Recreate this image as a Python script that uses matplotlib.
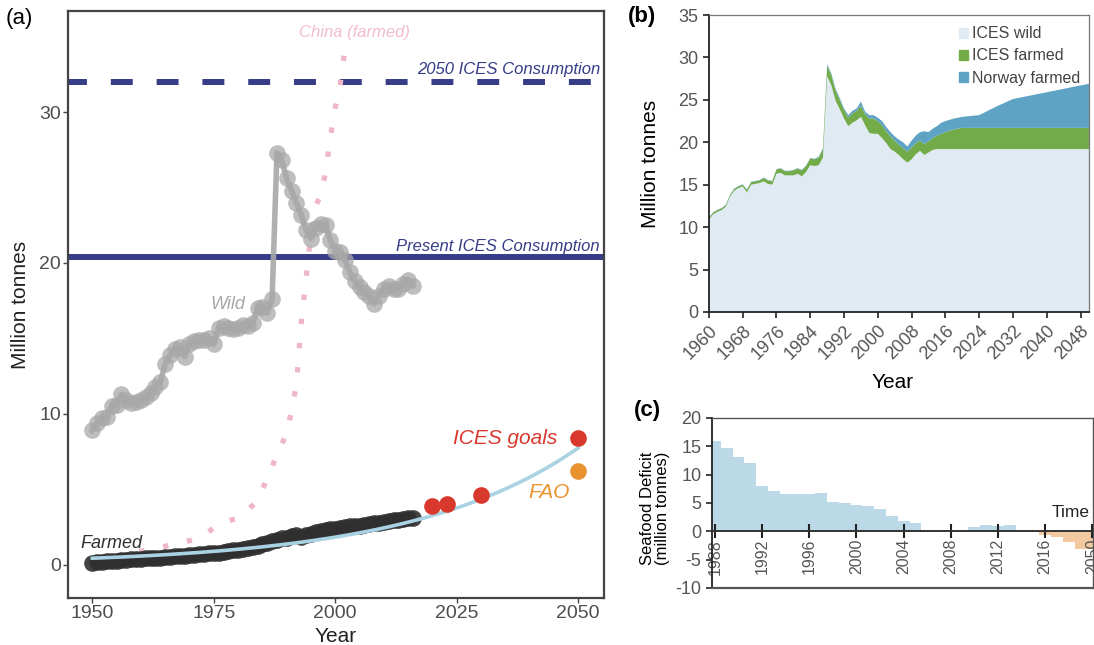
import numpy as np
import matplotlib
matplotlib.use("Agg")
import matplotlib.pyplot as plt
from matplotlib.patches import Patch

plt.rcParams['font.family'] = ['Liberation Sans', 'DejaVu Sans']
plt.rcParams['axes.unicode_minus'] = False

# ---------------- Panel (a) data ----------------
wild_years = list(range(1950, 2017))
wild_values = [8.9, 9.4, 9.7, 9.8, 10.5, 10.6, 11.3, 10.9, 10.7, 10.8,
               10.9, 11.1, 11.4, 11.8, 12.1, 13.3, 13.9, 14.3, 14.4, 13.8,
               14.6, 14.8, 14.9, 14.9, 15.0, 14.6, 15.7, 15.8, 15.7, 15.6,
               15.7, 15.9, 15.8, 16.0, 17.0, 17.1, 16.7, 17.6, 27.3, 26.8,
               25.6, 24.8, 24.0, 23.2, 22.2, 21.6, 22.3, 22.6, 22.5, 21.5,
               20.8, 20.7, 20.2, 19.4, 18.8, 18.4, 18.1, 17.8, 17.3, 17.8,
               18.3, 18.5, 18.3, 18.3, 18.6, 18.9, 18.5]

farmed_years = list(range(1950, 2017))
farmed_values = [0.15, 0.17, 0.20, 0.22, 0.25, 0.28, 0.30, 0.32, 0.35, 0.38,
                 0.40, 0.42, 0.44, 0.46, 0.48, 0.50, 0.52, 0.55, 0.58, 0.60,
                 0.63, 0.66, 0.70, 0.72, 0.75, 0.78, 0.80, 0.85, 0.90, 0.95,
                 0.98, 1.05, 1.10, 1.15, 1.25, 1.35, 1.45, 1.55, 1.65, 1.75,
                 1.80, 1.90, 1.95, 1.85, 1.95, 2.05, 2.15, 2.25, 2.30, 2.35,
                 2.40, 2.45, 2.50, 2.55, 2.60, 2.60, 2.65, 2.70, 2.75, 2.80,
                 2.85, 2.90, 2.95, 3.00, 3.05, 3.10, 3.10]

china_years = [1950, 1952, 1954, 1956, 1958, 1960, 1962, 1964, 1966, 1968,
               1970, 1972, 1974, 1976, 1978, 1980, 1982, 1984, 1985, 1986,
               1987, 1988, 1989, 1990, 1991, 1992, 1993, 1994, 1995, 1996,
               1997, 1998, 1999, 2000, 2001, 2002]
china_values = [0.1, 0.2, 0.35, 0.5, 0.7, 0.9, 1.0, 1.15, 1.3, 1.45,
                1.6, 1.75, 2.2, 2.7, 2.9, 3.1, 3.6, 4.3, 5.0, 5.7,
                6.5, 7.3, 8.0, 8.7, 10.2, 11.9, 16.0, 19.0, 22.0, 23.8,
                24.5, 26.0, 28.3, 30.3, 31.8, 34.2]

trend_read_years = [1950, 1990, 2016.6, 2030, 2050]
trend_read_values = [0.44, 1.33, 3.0, 4.33, 7.78]

ices_goal_years = [2020, 2023, 2030, 2050]
ices_goal_values = [3.9, 4.0, 4.6, 8.4]
fao_years = [2050]
fao_values = [6.2]

present_consumption = 20.4
consumption_2050 = 32.0

# ---------------- Panel (b) data ----------------
b_years = list(range(1960, 2017)) + [2018, 2020, 2024, 2028, 2032, 2040, 2050]
b_wild = [10.9, 11.5, 11.8, 12.0, 12.4, 13.6, 14.3, 14.6, 14.8, 14.1,
          15.0, 15.1, 15.2, 15.4, 15.1, 15.0, 16.3, 16.4, 16.1, 16.1,
          16.1, 16.3, 16.0, 16.5, 17.3, 17.2, 17.3, 18.2, 27.8, 26.7,
          24.9, 23.9, 22.8, 21.9, 22.3, 22.6, 23.0, 22.0, 21.1, 21.0,
          21.0, 20.5, 19.9, 19.2, 18.9, 18.5, 18.0, 17.6, 18.0, 18.6,
          19.0, 18.5, 18.8, 19.1, 19.2, 19.2, 19.2,
          19.2, 19.2, 19.2, 19.2, 19.2, 19.2, 19.2]
b_ices_farmed = [0.2, 0.2, 0.2, 0.2, 0.2, 0.2, 0.2, 0.2, 0.2, 0.3,
                 0.3, 0.3, 0.3, 0.4, 0.4, 0.4, 0.5, 0.5, 0.5, 0.5,
                 0.6, 0.6, 0.7, 0.7, 0.8, 0.8, 0.9, 1.0, 1.2, 1.2,
                 1.2, 1.1, 1.0, 1.0, 1.1, 1.1, 1.3, 1.3, 1.7, 1.8,
                 1.5, 1.5, 1.4, 1.5, 1.3, 1.2, 1.3, 1.3, 1.4, 1.3,
                 1.2, 1.3, 1.3, 1.4, 1.6, 1.8, 2.0,
                 2.3, 2.5, 2.5, 2.5, 2.5, 2.5, 2.5]
b_norway_farmed = [0.05, 0.05, 0.05, 0.05, 0.05, 0.05, 0.05, 0.05, 0.05, 0.05,
                   0.05, 0.05, 0.05, 0.05, 0.05, 0.05, 0.05, 0.05, 0.05, 0.05,
                   0.05, 0.05, 0.05, 0.05, 0.05, 0.05, 0.1, 0.1, 0.2, 0.2,
                   0.2, 0.2, 0.2, 0.3, 0.3, 0.3, 0.5, 0.3, 0.4, 0.4,
                   0.4, 0.5, 0.5, 0.5, 0.5, 0.6, 0.7, 0.6, 0.8, 0.9,
                   1.0, 1.5, 1.1, 1.1, 1.1, 1.3, 1.3,
                   1.3, 1.3, 1.5, 2.5, 3.4, 4.2, 5.2]

# ---------------- Panel (c) data ----------------
c_years = list(range(1988, 2021))
c_deficit = [15.9, 14.7, 13.1, 12.1, 8.0, 7.1, 6.6, 6.5, 6.5, 6.7,
             5.2, 5.0, 4.7, 4.5, 3.9, 2.7, 1.9, 1.5, 0.3, 0.2,
             0.2, 0.1, 0.8, 1.1, 1.0, 1.1, 0.2, 0.3, -0.7, -1.0,
             -1.9, -3.2, -3.2]
c_ticks = [1988, 1992, 1996, 2000, 2004, 2008, 2012, 2016, 2020]
c_ticklabels = ['1988', '1992', '1996', '2000', '2004', '2008', '2012', '2016', '2050']

# ---------------- Figure ----------------
fig = plt.figure(figsize=(10.94, 6.45), dpi=100)

# ===== Panel (a) =====
ax = fig.add_axes([0.0622, 0.0729, 0.4898, 0.9101])
ax.set_xlim(1945, 2055.3)
ax.set_ylim(-2.2, 36.7)

ax.axhline(present_consumption, color='#363c87', lw=4.3, zorder=2)
ax.axhline(consumption_2050, color='#363c87', lw=4.3,
           linestyle=(0.5, (3.67, 4.0)), dash_capstyle='butt', zorder=2)

ax.plot(china_years, china_values, color='#efb6c6', lw=3.8,
        linestyle=(0, (1, 3.6)), dash_capstyle='butt', zorder=3)

ax.plot(wild_years, wild_values, color='#a8a8a8', lw=4, zorder=4, alpha=0.9)
ax.plot(wild_years, wild_values, 'o', color='#a8a8a8', ms=12, alpha=0.75,
        mec='none', zorder=4)

ax.plot(farmed_years, farmed_values, 'o', color='#2f2f2f', ms=12, alpha=0.9,
        mec='none', zorder=5)

coef = np.polyfit(trend_read_years, np.log(trend_read_values), 1)
tx = np.linspace(1950, 2050, 200)
ax.plot(tx, np.exp(np.polyval(coef, tx)), color='#a9d2e3', lw=2.6, zorder=6)

ax.plot(ices_goal_years, ices_goal_values, 'o', color='#d8392c', ms=12,
        mec='none', zorder=7)
ax.plot(fao_years, fao_values, 'o', color='#e8932f', ms=12, mec='none', zorder=7)

ax.text(2054.5, 32.8, '2050 ICES Consumption', color='#363c87', fontsize=12,
        style='italic', ha='right', va='center')
ax.text(2054.5, 21.1, 'Present ICES Consumption', color='#363c87', fontsize=12,
        style='italic', ha='right', va='center')
ax.text(2004, 35.3, 'China (farmed)', color='#f2bccb', fontsize=12,
        style='italic', ha='center', va='center')
ax.text(1977.8, 17.25, 'Wild', color='#a8a8a8', fontsize=13,
        style='italic', ha='center', va='center')
ax.text(1947.6, 1.4, 'Farmed', color='#2f2f2f', fontsize=13,
        style='italic', ha='left', va='center')
ax.text(2045.8, 8.4, 'ICES goals', color='#d8392c', fontsize=15,
        style='italic', ha='right', va='center')
ax.text(2044, 4.8, 'FAO', color='#e8932f', fontsize=15,
        style='italic', ha='center', va='center')

ax.set_xticks([1950, 1975, 2000, 2025, 2050])
ax.set_yticks([0, 10, 20, 30])
ax.tick_params(direction='out', length=3.5, width=1, colors='#444444',
               labelsize=14, labelcolor='#4d4d4d', pad=1.5)
for s in ax.spines.values():
    s.set_color('#444444')
    s.set_linewidth(1.6)
ax.set_xlabel('Year', fontsize=15, color='#222222')
ax.xaxis.set_label_coords(0.5, -0.066)
ax.xaxis.label.set_va('center')
ax.set_ylabel('Million tonnes', fontsize=15, color='#222222')
ax.yaxis.set_label_coords(-0.088, 0.5)
ax.yaxis.label.set_va('center')
fig.text(0.018, 0.972, '(a)', fontsize=16, ha='center', va='center')

# ===== Panel (b) =====
bx = fig.add_axes([0.648, 0.5163, 0.3474, 0.4604])
bx.stackplot(b_years, b_wild, b_ices_farmed, b_norway_farmed,
             colors=['#dfeaf3', '#72ab48', '#5ea3c4'], lw=0)
bx.set_xlim(1960, 2050)
bx.set_ylim(0, 35)
bx.set_xticks(list(range(1960, 2050, 8)))
bx.set_yticks(list(range(0, 36, 5)))
bx.tick_params(axis='both', direction='out', length=4, width=1.2, colors='#222222',
               labelsize=13, labelcolor='#555555')
plt.setp(bx.get_xticklabels(), rotation=45, ha='right', rotation_mode='anchor')
for k in ['left', 'bottom']:
    bx.spines[k].set_color('#222222')
    bx.spines[k].set_linewidth(1.3)
for k in ['top', 'right']:
    bx.spines[k].set_color('#777777')
    bx.spines[k].set_linewidth(0.9)
bx.set_xlabel('Year', fontsize=15)
bx.xaxis.set_label_coords(0.484, -0.236)
bx.xaxis.label.set_va('center')
bx.set_ylabel('Million tonnes', fontsize=15)
bx.yaxis.set_label_coords(-0.155, 0.5)
bx.yaxis.label.set_va('center')
handles = [Patch(color='#dfeaf3', label='ICES wild'),
           Patch(color='#72ab48', label='ICES farmed'),
           Patch(color='#5ea3c4', label='Norway farmed')]
leg = bx.legend(handles=handles, loc='upper left', bbox_to_anchor=(0.628, 1.0),
                frameon=False, fontsize=11.5, handlelength=0.6, handleheight=0.6,
                handletextpad=0.25, labelspacing=0.45, borderpad=0.2)
for t in leg.get_texts():
    t.set_color('#444444')
fig.text(0.587, 0.974, '(b)', fontsize=16, fontweight='bold', ha='center', va='center')

# ===== Panel (c) =====
cx = fig.add_axes([0.6508, 0.0884, 0.3482, 0.2636])
colors_c = ['#bcd9e7' if v >= 0 else '#f2c9a1' for v in c_deficit]
cx.bar(c_years, c_deficit, width=1.0, color=colors_c, lw=0, zorder=1)
cx.set_xlim(1987.75, 2020.05)
cx.set_ylim(-10, 20)
cx.spines['bottom'].set_position(('data', 0))
cx.spines['bottom'].set_color('#333333')
cx.spines['bottom'].set_linewidth(1.4)
cx.spines['left'].set_color('#222222')
cx.spines['left'].set_linewidth(1.3)
for k in ['top', 'right']:
    cx.spines[k].set_color('#555555')
    cx.spines[k].set_linewidth(1.0)
cx.plot([0, 1], [0, 0], transform=cx.transAxes, color='#555555', lw=1.6,
        clip_on=False, zorder=5)
cx.set_xticks(c_ticks)
cx.set_xticklabels(c_ticklabels, rotation=90)
cx.tick_params(axis='x', direction='inout', length=10, width=1.5, colors='#222222',
               labelsize=11.5, labelcolor='#555555', pad=0.5)
cx.set_yticks([-10, -5, 0, 5, 10, 15, 20])
cx.tick_params(axis='y', direction='out', length=4, width=1.2, colors='#222222',
               labelsize=13, labelcolor='#555555')
cx.text(2019.8, 3.4, 'Time', fontsize=12.5, ha='right', va='center', color='#222222')
cx.set_ylabel('Seafood Deficit\n(million tonnes)', fontsize=12, linespacing=1.0)
cx.yaxis.set_label_coords(-0.15, 0.47)
cx.yaxis.label.set_va('center')
fig.text(0.592, 0.364, '(c)', fontsize=16, fontweight='bold', ha='center', va='center')

fig.savefig('out.png', dpi=100)
